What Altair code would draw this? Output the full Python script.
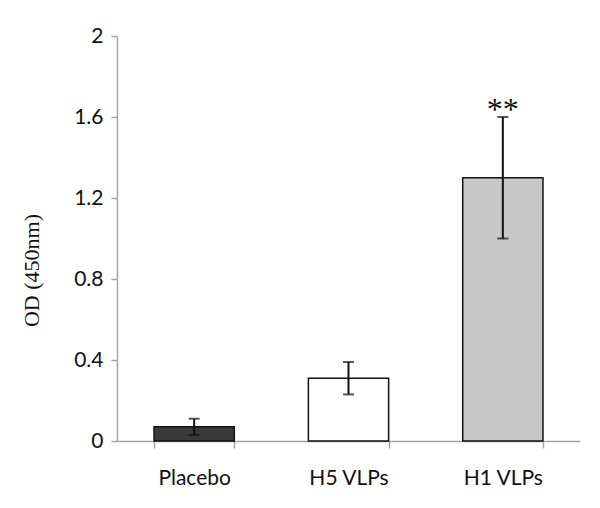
import altair as alt
import pandas as pd

groups = ["Placebo", "H5 VLPs", "H1 VLPs"]
means = [0.07, 0.31, 1.30]
err_low = [0.03, 0.23, 1.00]
err_high = [0.11, 0.39, 1.60]
fills = ["#3a3a3a", "#ffffff", "#c8c8c8"]
stars = ["", "", "**"]

df = pd.DataFrame({
    "group": groups, "mean": means, "lo": err_low, "hi": err_high,
    "fill": fills, "star": stars,
})

xenc = alt.X("group:N", sort=groups, title=None,
             scale=alt.Scale(paddingInner=0.48, paddingOuter=0.24),
             axis=alt.Axis(labelAngle=0, labelFont="Lato", labelFontSize=21,
                           labelColor="#111111", labelPadding=19,
                           domainColor="#a6a6a6", tickColor="#a6a6a6",
                           tickBand="extent", tickSize=7, domainWidth=1.5, tickWidth=1.5))

yscale = alt.Scale(domain=[0, 2], nice=False)

bars = alt.Chart(df).mark_bar(stroke="#111111", strokeWidth=1.5).encode(
    x=xenc,
    y=alt.Y("mean:Q", scale=yscale, title="OD (450nm)",
            axis=alt.Axis(values=[0, 0.4, 0.8, 1.2, 1.6, 2], format="~g",
                          labelFont="Lato", labelFontSize=21, labelColor="#111111",
                          labelPadding=8, grid=False,
                          domainColor="#a6a6a6", tickColor="#a6a6a6", tickSize=6,
                          domainWidth=1.5, tickWidth=1.5,
                          titleFont="Liberation Serif", titleFontSize=22,
                          titleFontWeight="normal", titleColor="#111111",
                          titleX=-74, titleY=234)),
    fill=alt.Fill("fill:N", scale=None),
)

rules = alt.Chart(df).mark_rule(color="#111111", strokeWidth=2).encode(
    x=alt.X("group:N", sort=groups), y="lo:Q", y2="hi:Q")

caps_lo = alt.Chart(df).mark_tick(color="#111111", thickness=2, size=11, orient="horizontal").encode(
    x=alt.X("group:N", sort=groups), y="lo:Q")
caps_hi = alt.Chart(df).mark_tick(color="#111111", thickness=2, size=11, orient="horizontal").encode(
    x=alt.X("group:N", sort=groups), y="hi:Q")

star_text = alt.Chart(df).mark_text(font="Liberation Serif", fontSize=32, dy=3,
                                    color="#111111", baseline="alphabetic").encode(
    x=alt.X("group:N", sort=groups), y="hi:Q", text="star:N")

chart = alt.layer(bars, rules, caps_lo, caps_hi, star_text).properties(
    width=463, height=405,
    autosize=alt.AutoSizeParams(type="none"),
    padding={"left": 109, "top": 28, "right": 12, "bottom": 60},
    background="#ffffff",
).configure_view(stroke=None)

chart.save("out.html", embed_options={"renderer": "svg", "actions": False})
